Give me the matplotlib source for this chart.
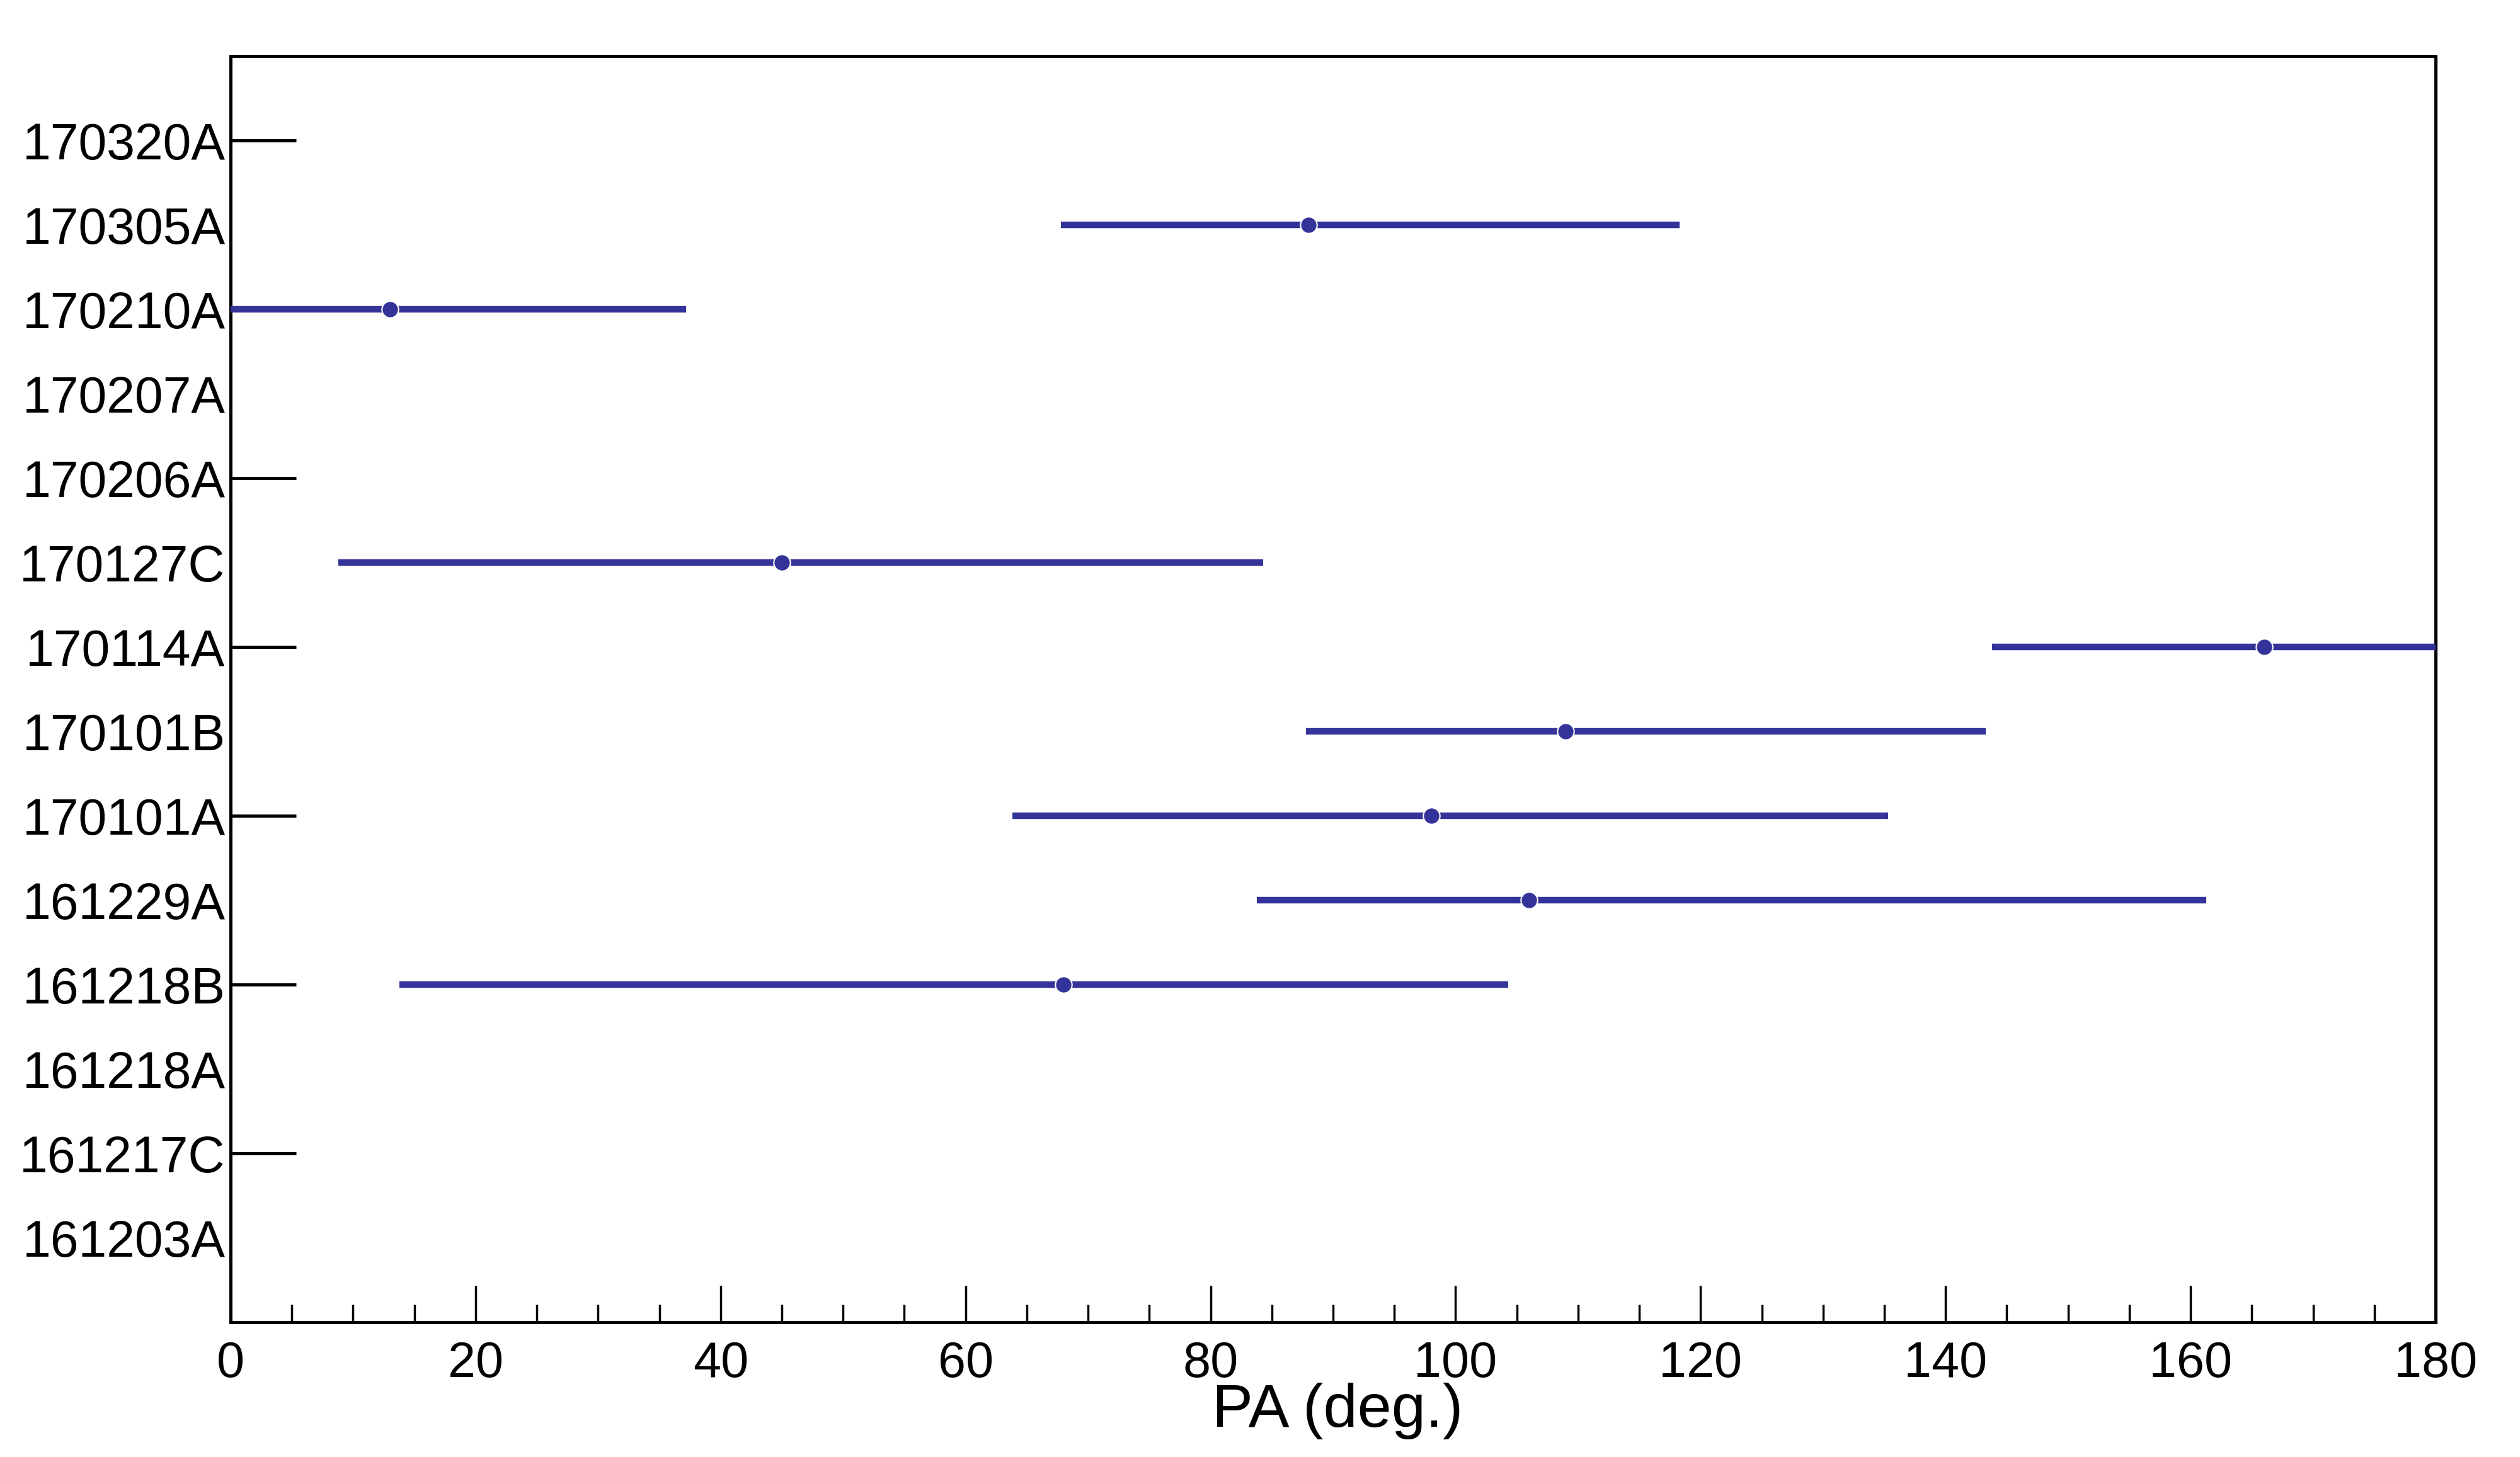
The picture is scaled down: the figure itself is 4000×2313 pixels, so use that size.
import numpy as np
import matplotlib
matplotlib.use("Agg")
import matplotlib.pyplot as plt
from matplotlib.ticker import MultipleLocator

# Data (bottom to top)
grbs = ["161203A", "161217C", "161218A", "161218B", "161229A", "170101A",
        "170101B", "170114A", "170127C", "170206A", "170207A", "170210A",
        "170305A", "170320A"]
pa_center = [np.nan, np.nan, np.nan, 68.0, 106.0, 98.0,
             109.0, 166.0, 45.0, np.nan, np.nan, 13.0,
             88.0, np.nan]
pa_low = [np.nan, np.nan, np.nan, 13.8, 83.8, 63.8,
          87.8, 143.8, 8.8, np.nan, np.nan, 0.0,
          67.8, np.nan]
pa_high = [np.nan, np.nan, np.nan, 104.3, 161.3, 135.3,
           143.3, 180.0, 84.3, np.nan, np.nan, 37.2,
           118.3, np.nan]
ytick_positions = [2, 4, 6, 8, 10, 12, 14]
xlabel = "PA (deg.)"

plt.rcParams['font.family'] = ['Liberation Sans', 'DejaVu Sans']

fig = plt.figure(figsize=(40, 23.13), dpi=100)
ax = fig.add_axes([0.0915, 0.0925, 0.875, 0.869])

color = "#333399"
ypos = np.arange(1, len(grbs) + 1)
c = np.array(pa_center)
lo = np.array(pa_low)
hi = np.array(pa_high)
mask = ~np.isnan(c)
ax.errorbar(c[mask], ypos[mask], xerr=[c[mask] - lo[mask], hi[mask] - c[mask]],
            fmt='o', color=color, ecolor=color, elinewidth=7.5, markersize=19,
            markeredgecolor='white', markeredgewidth=1.5, capsize=0, zorder=3)

ax.set_xlim(0, 180)
ax.set_ylim(0, 15)

# y labels at every category, ticks only at some
ax.yaxis.remove_overlapping_locs = False
ax.set_yticks(ypos)
ax.set_yticklabels(grbs)
ax.tick_params(axis='y', which='major', length=0, pad=6, labelsize=58)
ax.set_yticks(ytick_positions, minor=True)
ax.set_yticklabels([], minor=True)
ax.tick_params(axis='y', which='minor', direction='in', length=75, width=3.6,
               left=True, right=False, color='black')

ax.xaxis.set_major_locator(MultipleLocator(20))
ax.xaxis.set_minor_locator(MultipleLocator(5))
ax.tick_params(axis='x', which='major', direction='in', length=42, width=2.5,
               top=False, pad=21, labelsize=57)
ax.tick_params(axis='x', which='minor', direction='in', length=20, width=2.5,
               top=False)

for s in ax.spines.values():
    s.set_linewidth(3.6)

ax.set_xlabel(xlabel, fontsize=70)
ax.xaxis.label.set_va('baseline')
ax.xaxis.set_label_coords(0.502, -0.0826)

fig.savefig("out.png", dpi=100)
